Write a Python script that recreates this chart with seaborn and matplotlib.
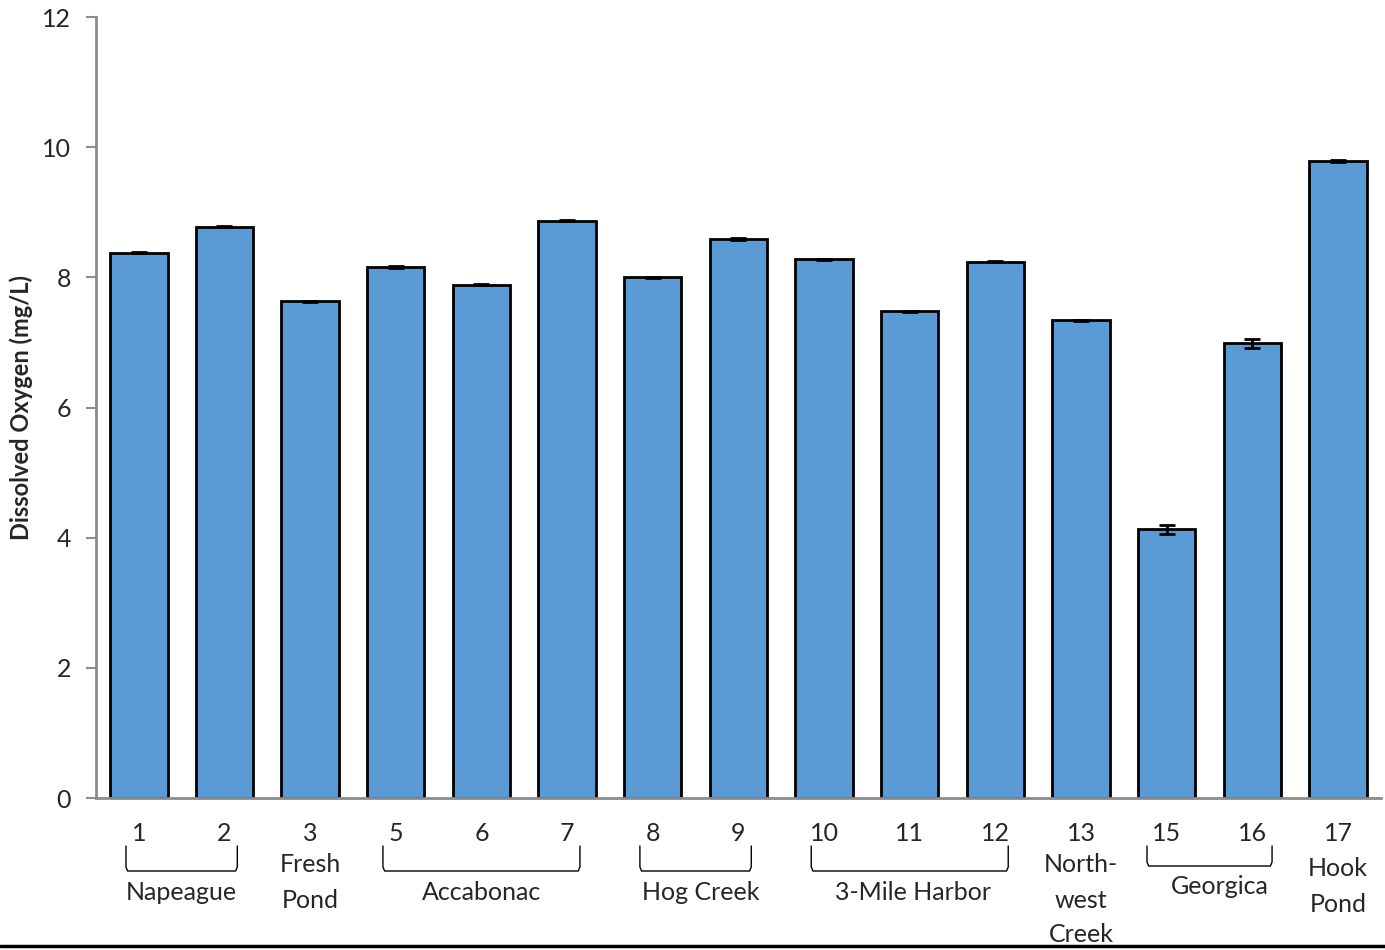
import matplotlib
matplotlib.use("Agg")
import matplotlib.pyplot as plt
from matplotlib.lines import Line2D
import matplotlib.transforms as mtransforms
import numpy as np
import pandas as pd
import seaborn as sns

# Station numbers, mean dissolved oxygen and standard error
stations = ["1", "2", "3", "5", "6", "7", "8", "9", "10", "11", "12", "13", "15", "16", "17"]
do_mean = [8.38, 8.78, 7.63, 8.16, 7.89, 8.87, 8.00, 8.59, 8.28, 7.48, 8.24, 7.34, 4.13, 6.99, 9.79]
do_err = [0.01, 0.01, 0.01, 0.01, 0.01, 0.01, 0.01, 0.01, 0.01, 0.01, 0.01, 0.01, 0.07, 0.07, 0.02]

# Site groups: (first station, last station, label)
bracket_groups = [("1", "2", "Napeague"), ("5", "7", "Accabonac"), ("8", "9", "Hog Creek"),
                  ("10", "12", "3-Mile Harbor"), ("15", "16", "Georgica")]
# Single-station sites, one entry per text line
single_sites = [("3", ["Fresh", "Pond"]), ("13", ["North-", "west", "Creek"]), ("17", ["Hook", "Pond"])]

y_ticks = [0, 2, 4, 6, 8, 10, 12]

sns.set_theme(style="white")
plt.rcParams["font.family"] = ["Lato", "DejaVu Sans"]

bar_color = "#5b9bd5"
axis_gray = "#8c8c8c"
FS = 18

df = pd.DataFrame({"station": stations, "do": do_mean, "err": do_err})

fig = plt.figure(figsize=(13.85, 9.5), dpi=100)
ax = fig.add_axes([0.0693, 0.16, 0.9277, 0.822])

sns.barplot(data=df, x="station", y="do", order=stations, color=bar_color,
            width=0.67, edgecolor="black", linewidth=2, errorbar=None,
            saturation=1, ax=ax)

xpos = np.arange(len(stations))
ax.errorbar(xpos, df["do"], yerr=df["err"], fmt="none", ecolor="black",
            elinewidth=2, capsize=6, capthick=2, zorder=5)

ax.set_xlim(-0.5, len(stations) - 0.5)
ax.set_ylim(0, 12)
ax.set_yticks(y_ticks)
ax.set_yticklabels([str(t) for t in y_ticks], fontsize=FS)
ax.set_ylabel("Dissolved Oxygen (mg/L)", fontsize=17, fontweight="bold")
ax.yaxis.set_label_coords(-0.049, 0.5)
ax.set_xlabel("")

for side in ["top", "right"]:
    ax.spines[side].set_visible(False)
for side in ["left", "bottom"]:
    ax.spines[side].set_color(axis_gray)
    ax.spines[side].set_linewidth(2)

ax.tick_params(axis="y", which="both", left=True, length=7, width=1.5,
               color=axis_gray, pad=11)
ax.tick_params(axis="x", which="both", bottom=False, length=0, pad=17, labelsize=FS)

# Site groups drawn below the axis
trans = mtransforms.blended_transform_factory(ax.transData, ax.transAxes)
idx = {s: i for i, s in enumerate(stations)}
ax_h_px = 0.822 * 950

def ay(px):
    # axis-fraction position for a given pixel distance below the x axis
    return -px / ax_h_px

for first, last, label in bracket_groups:
    georgica = label == "Georgica"
    ext = 0.23 if georgica else 0.15
    x0 = idx[first] - ext
    x1 = idx[last] + ext
    depth = 68 if georgica else 73
    top = 48
    ax.plot([x0, x0, x0 + 0.02, x1 - 0.02, x1, x1],
            [ay(top), ay(depth - 4), ay(depth), ay(depth), ay(depth - 4), ay(top)],
            transform=trans, color="black", lw=1.0, clip_on=False)
    label_y = 88 if georgica else 95
    shift = {"Georgica": 0.12, "Hog Creek": 0.06, "3-Mile Harbor": 0.04}.get(label, 0.0)
    ax.text((idx[first] + idx[last]) / 2 + shift, ay(label_y), label, transform=trans,
            ha="center", va="center", fontsize=FS, clip_on=False)

for st, lines in single_sites:
    first_line = 71 if st == "17" else 67
    for k, line in enumerate(lines):
        ax.text(idx[st], ay(first_line + 35 * k), line, transform=trans,
                ha="center", va="center", fontsize=FS, clip_on=False)

# Rule along the bottom edge of the figure
fig.add_artist(Line2D([0, 1], [0.004, 0.004], transform=fig.transFigure,
                      color="black", lw=2.5))

fig.savefig("out.png", dpi=100)
